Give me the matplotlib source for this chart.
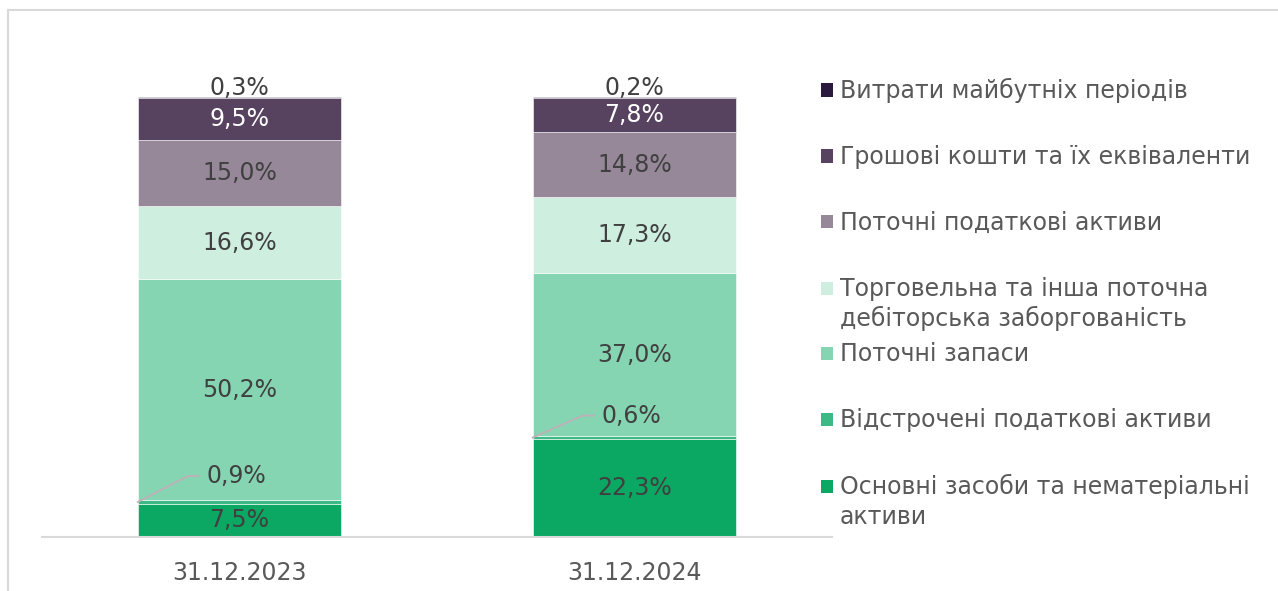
import matplotlib
matplotlib.use("Agg")
import matplotlib.pyplot as plt
from matplotlib.patches import Rectangle
from matplotlib.lines import Line2D
from matplotlib.transforms import IdentityTransform
import numpy as np

plt.rcParams['font.family'] = ['DejaVu Sans']

categories = ["31.12.2023", "31.12.2024"]
series_names = [
    "Основні засоби та нематеріальні\nактиви",
    "Відстрочені податкові активи",
    "Поточні запаси",
    "Торговельна та інша поточна\nдебіторська заборгованість",
    "Поточні податкові активи",
    "Грошові кошти та їх еквіваленти",
    "Витрати майбутніх періодів",
]
fixed_assets = [7.5, 22.3]
deferred_tax = [0.9, 0.6]
inventories = [50.2, 37.0]
receivables = [16.6, 17.3]
current_tax = [15.0, 14.8]
cash = [9.5, 7.8]
prepaid = [0.3, 0.2]
series_values = [fixed_assets, deferred_tax, inventories, receivables,
                 current_tax, cash, prepaid]

colors = ["#0AA862", "#3DB986", "#86D5B2", "#CEEEDF", "#968799", "#574360", "#2B1A3D"]
label_colors = ["#404040", "#404040", "#404040", "#404040", "#404040", "#FFFFFF", "#404040"]

W, H = 1278, 591
fig = plt.figure(figsize=(W / 100, H / 100), dpi=100)
ax = fig.add_axes([42 / W, 54 / H, 790 / W, 440 / H])
ax.set_xlim(-0.5, 1.5)
ax.set_ylim(0, 100)

x = np.arange(len(categories))
bar_w = 0.515
FS = 17
bottom = np.zeros(len(categories))
for si, (vals, col) in enumerate(zip(series_values, colors)):
    vals = np.array(vals)
    ax.bar(x, vals, bar_w, bottom=bottom, color=col, edgecolor="white",
           linewidth=0.4, zorder=2)
    for xi, v, b in zip(x, vals, bottom):
        txt = f"{v:.1f}".replace(".", ",") + "%"
        if si == 6:
            ax.annotate(txt, xy=(xi, b + v), xytext=(0, 2), textcoords="offset pixels",
                        ha="center", va="baseline", fontsize=FS, color="#404040",
                        annotation_clip=False)
        elif si == 1:
            dy = 26 if xi == 0 else 22
            p0 = ax.transData.transform((xi - bar_w / 2, b + v / 2))
            p1 = p0 + np.array([50, dy])
            p2 = p1 + np.array([11, 0])
            pts = np.array([p0, p1, p2])
            fig.add_artist(Line2D(pts[:, 0], pts[:, 1], transform=IdentityTransform(),
                                  color="#BFB0B8", lw=1.3, zorder=4))
            ax.annotate(txt, xy=(xi - bar_w / 2, b + v / 2), xytext=(69, dy),
                        textcoords="offset pixels", ha="left", va="center",
                        fontsize=FS, color="#404040", annotation_clip=False)
        else:
            ax.text(xi, b + v / 2, txt, ha="center", va="center", fontsize=FS,
                    color=label_colors[si], zorder=3)
    bottom = bottom + vals

ax.set_xticks(x)
ax.set_xticklabels(categories, fontsize=FS, color="#595959")
ax.tick_params(axis="x", length=0, pad=17)
ax.set_yticks([])
for s in ["top", "right", "left"]:
    ax.spines[s].set_visible(False)
ax.spines["bottom"].set_color("#D9D9D9")
ax.spines["bottom"].set_linewidth(1.5)
ax.patch.set_alpha(0)

# legend (drawn manually, top to bottom)
leg_y = [90, 156, 222, 288, 353, 419, 486]
for i, yy in enumerate(leg_y):
    si = 6 - i
    fig.add_artist(Rectangle((821 / W, 1 - (yy + 6.5) / H), 12 / W, 13 / H,
                             transform=fig.transFigure, facecolor=colors[si],
                             edgecolor="none"))
    for li, line in enumerate(series_names[si].split("\n")):
        fig.text(840 / W, 1 - (yy + 8 + 30 * li) / H, line, fontsize=FS,
                 color="#595959", ha="left", va="baseline")

# outer frame (top and left visible)
fig.add_artist(Line2D([8 / W, 1.0], [1 - 10 / H, 1 - 10 / H], transform=fig.transFigure,
                      color="#D9D9D9", lw=1.5))
fig.add_artist(Line2D([8 / W, 8 / W], [1 - 10 / H, 0], transform=fig.transFigure,
                      color="#D9D9D9", lw=1.5))

fig.savefig("out.png", dpi=100, facecolor="white")
